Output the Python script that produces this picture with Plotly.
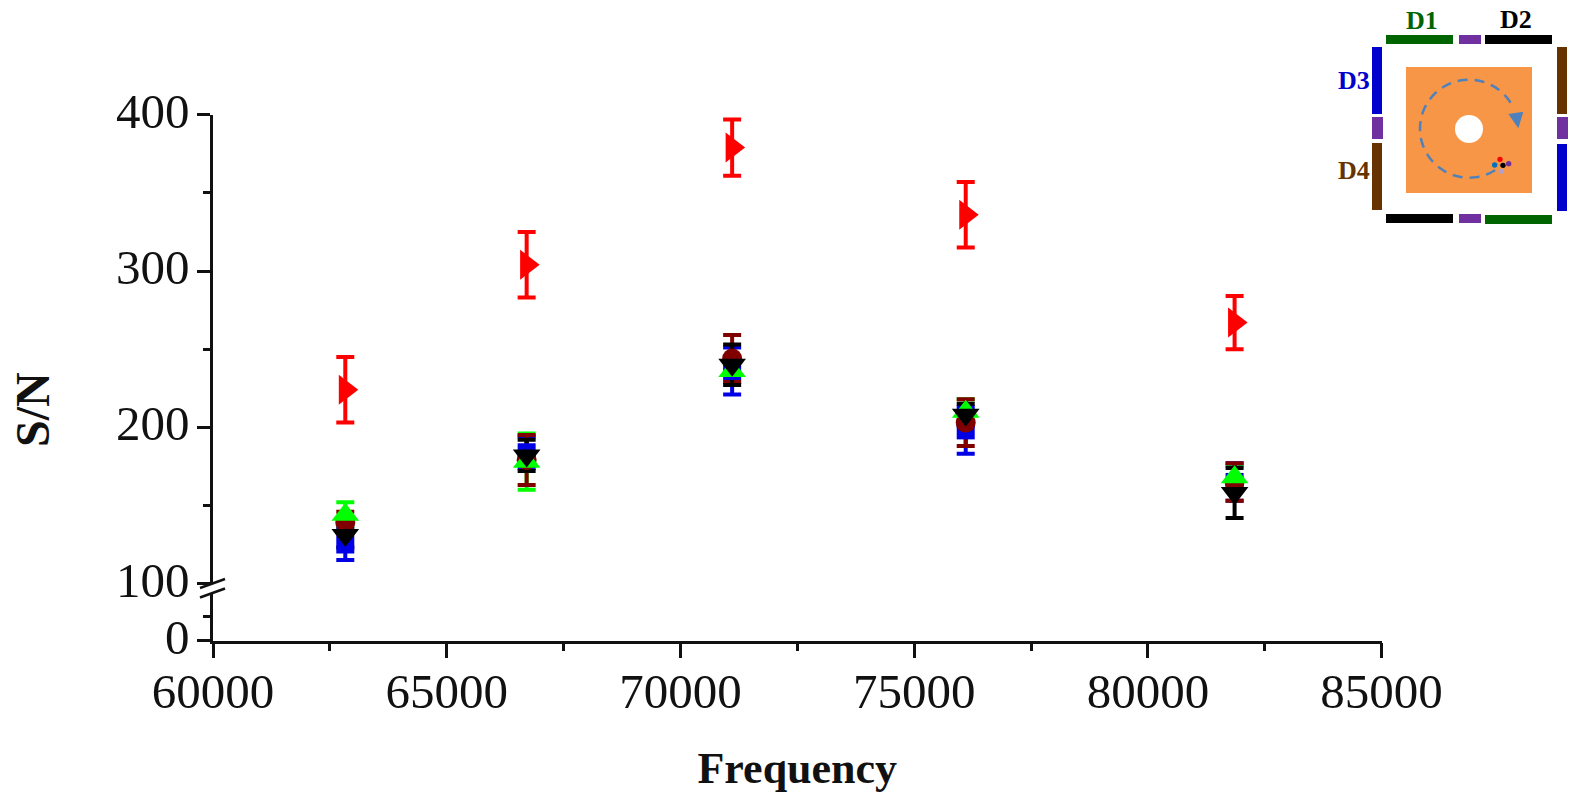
import numpy as np
import plotly.graph_objects as go

W, H = 1579, 795
freq = [62830, 66710, 71106, 76103, 81855]

red_y = [224, 304, 379, 336, 267]
red_e = [21, 21, 18, 21, 17]
blue_y = [125, 184, 236, 198, 165]
blue_e = [10, 10, 15, 15, 12]
maroon_y = [139, 179, 244, 203, 165]
maroon_e = [7, 16, 15, 15, 12]
green_y = [144, 178, 236, 210, 168]
green_e = [8, 18, 7, 8, 7]
black_y = [131, 182, 240, 208, 158]
black_e = [8, 10, 13, 7, 16]

series = [
    ("Red", red_y, red_e, "#FF0000", "triangle-right", 26),
    ("Blue", blue_y, blue_e, "#0000E6", "square", 18),
    ("Maroon", maroon_y, maroon_e, "#800000", "circle", 20),
    ("Green", green_y, green_e, "#00FF00", "triangle-up", 24),
    ("Black", black_y, black_e, "#000000", "triangle-down", 24),
]
bar_order = ["Red", "Green", "Blue", "Maroon", "Black"]

X0, X1 = 213, 1381.6
Y400, Y100, Y100b, Y0 = 114.8, 583.5, 593, 640.7
px = lambda v: v / W
py = lambda v: 1 - v / H

fig = go.Figure()
lookup = {s[0]: s for s in series}
# error bars lie under the markers, black triangles end up on top
for key in bar_order:
    name, y, e, c, sym, size = lookup[key]
    fig.add_trace(go.Scatter(
        x=freq, y=y, mode="markers", name=name + " error", showlegend=False,
        marker=dict(color="rgba(0,0,0,0)", size=1, line=dict(width=0)),
        error_y=dict(type="data", array=e, visible=True, color=c, thickness=4, width=9),
        xaxis="x", yaxis="y", hoverinfo="skip",
    ))
for name, y, e, c, sym, size in series:
    fig.add_trace(go.Scatter(
        x=freq, y=y, mode="markers", name=name, showlegend=False,
        marker=dict(color=c, symbol=sym, size=size, line=dict(width=0)),
        xaxis="x", yaxis="y",
    ))
# empty trace so the lower part of the broken axis exists
fig.add_trace(go.Scatter(x=freq, y=[None] * len(freq), mode="markers", showlegend=False,
                         xaxis="x", yaxis="y2", hoverinfo="skip"))

font_tick = dict(family="Liberation Serif", size=49, color="#111111")
axis_common = dict(showline=True, linecolor="#111111", linewidth=2.5, showgrid=False,
                   zeroline=False, ticks="outside", tickcolor="#111111", tickwidth=2.5,
                   tickfont=font_tick, automargin=False)

fig.update_layout(
    template="none",
    width=W, height=H, margin=dict(l=0, r=0, t=0, b=0, pad=0), autosize=False,
    paper_bgcolor="white", plot_bgcolor="rgba(0,0,0,0)", showlegend=False,
    xaxis=dict(domain=[px(X0), px(X1)], range=[60000, 85000], anchor="y2",
               tickmode="array", tickvals=[60000, 65000, 70000, 75000, 80000, 85000],
               ticktext=["60000", "65000", "70000", "75000", "80000", "85000"],
               ticklen=15, ticklabelstandoff=-9,
               minor=dict(tickmode="array", tickvals=[62500, 67500, 72500, 77500, 82500],
                          ticklen=8, tickwidth=2.5, ticks="outside", tickcolor="#111111"),
               title=dict(text="<b>Frequency</b>", standoff=34,
                          font=dict(family="Liberation Serif", size=44, color="#111111")),
               **axis_common),
    yaxis=dict(domain=[py(Y100), py(Y400)], range=[100, 400], anchor="x",
               tickmode="array", tickvals=[100, 200, 300, 400],
               ticklen=13, ticklabelstandoff=-2, ticklabelshift=-4,
               minor=dict(tickmode="array", tickvals=[150, 250, 350],
                          ticklen=7, tickwidth=2.5, ticks="outside", tickcolor="#111111"),
               **axis_common),
    yaxis2=dict(domain=[py(Y0), py(Y100b)], range=[0, 100], anchor="x",
                tickmode="array", tickvals=[0], ticklen=13, ticklabelstandoff=-2, ticklabelshift=-4,
                minor=dict(tickmode="array", tickvals=[50],
                           ticklen=7, tickwidth=2.5, ticks="outside", tickcolor="#111111"),
                **axis_common),
)

shapes = []
annotations = []

def seg(x0, y0, x1, y1, color="#111111", width=2.5):
    shapes.append(dict(type="line", xref="paper", yref="paper", x0=px(x0), y0=py(y0),
                       x1=px(x1), y1=py(y1), line=dict(color=color, width=width)))

# axis break marks
seg(200, 588, 225, 579)
seg(200, 597.5, 225, 588.5)

# inset: zoom-crop coordinates to page pixels
ix = lambda v: 1300 + v / 3
iy = lambda v: v / 3

def rect(a, b, c, d, color):
    shapes.append(dict(type="rect", xref="paper", yref="paper", x0=px(ix(a)), x1=px(ix(c)),
                       y0=py(iy(b)), y1=py(iy(d)), fillcolor=color, line=dict(width=0)))

def disc(cx, cy, r, color):
    shapes.append(dict(type="circle", xref="paper", yref="paper",
                       x0=px(ix(cx - r)), x1=px(ix(cx + r)),
                       y0=py(iy(cy - r)), y1=py(iy(cy + r)),
                       fillcolor=color, line=dict(width=0)))

GREEN, BLACK, PURPLE, BLUE, BROWN = "#006400", "#000000", "#7030A0", "#0000CC", "#663300"
ORANGE, STEEL = "#F79646", "#4F81BD"
rect(258, 105, 459, 132, GREEN); rect(477, 105, 543, 132, PURPLE); rect(555, 105, 756, 132, BLACK)
rect(216, 141, 246, 342, BLUE); rect(216, 351, 249, 417, PURPLE); rect(216, 429, 246, 630, BROWN)
rect(771, 141, 801, 342, BROWN); rect(771, 351, 804, 417, PURPLE); rect(771, 432, 801, 633, BLUE)
rect(258, 642, 459, 669, BLACK); rect(477, 642, 543, 669, PURPLE); rect(555, 645, 756, 672, GREEN)
rect(318, 201, 696, 579, ORANGE)
disc(507, 387, 42, "#FFFFFF")

# dashed rotation arc
ang = np.radians(np.linspace(-32, -312, 80))
ax_pts = [(px(ix(507 + 147 * np.cos(a))), py(iy(386 + 147 * np.sin(a)))) for a in ang]
path = "M " + " L ".join(f"{a:.5f},{b:.5f}" for a, b in ax_pts)
shapes.append(dict(type="path", xref="paper", yref="paper", path=path,
                   line=dict(color=STEEL, width=2.5, dash="10px,7px")))
tri = [(625, 342), (670, 335), (655, 385)]
shapes.append(dict(type="path", xref="paper", yref="paper", fillcolor=STEEL, line=dict(width=0),
                   path="M " + " L ".join(f"{px(ix(a)):.5f},{py(iy(b)):.5f}" for a, b in tri) + " Z"))

disc(600, 478, 8, "#FF0000")
disc(584, 495, 8, "#0070C0")
disc(626, 491, 8, "#7030A0")
disc(604, 514, 8, "#B1A0C7")
disc(609, 496, 8, "#000000")

labels = [("D1", 365, 63, GREEN), ("D2", 648, 60, BLACK), ("D3", 162, 243, BLUE), ("D4", 162, 513, BROWN)]
for t, a, b, c in labels:
    annotations.append(dict(text=f"<b>{t}</b>", xref="paper", yref="paper", x=px(ix(a)), y=py(iy(b)),
                            xanchor="center", yanchor="middle", showarrow=False,
                            font=dict(family="Liberation Serif", size=26, color=c)))

annotations.append(dict(text="<b>S/N</b>", xref="paper", yref="paper", x=px(32), y=py(410),
                        xanchor="center", yanchor="middle", textangle=-90, showarrow=False,
                        font=dict(family="Liberation Serif", size=48, color="#111111")))

fig.update_layout(shapes=shapes, annotations=annotations)
fig.write_html("out.html", config=dict(displayModeBar=False),
               post_script="document.body.style.margin='0';document.body.style.overflow='hidden';")
